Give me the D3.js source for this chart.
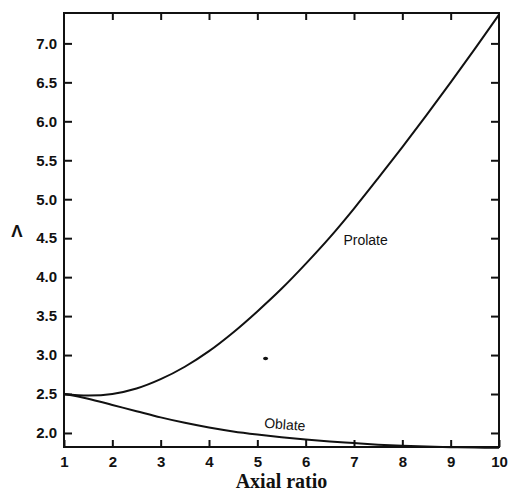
<!DOCTYPE html>
<html>
<head>
<meta charset="utf-8">
<script src="https://cdn.jsdelivr.net/npm/d3@7"></script>
<style>
  body { margin: 0; background: #fff; }
  svg { display: block; }
  .tick text { font-family: "Liberation Sans", Arial, sans-serif; font-weight: bold; font-size: 15px; fill: #111; }
</style>
</head>
<body>
<div id="chart"></div>
<script>
// axial ratio values shared by both curves
const axialRatio = [1, 1.5, 2, 2.5, 3, 3.5, 4, 4.5, 5, 5.5, 6, 6.5, 7, 7.5, 8, 8.5, 9, 9.5, 10];
const prolate = [2.50, 2.48, 2.50, 2.57, 2.69, 2.85, 3.05, 3.29, 3.56, 3.85, 4.17, 4.51, 4.88, 5.27, 5.67, 6.08, 6.50, 6.93, 7.37];
const oblate = [2.50, 2.44, 2.36, 2.28, 2.20, 2.13, 2.07, 2.02, 1.98, 1.945, 1.915, 1.89, 1.87, 1.85, 1.835, 1.825, 1.818, 1.813, 1.81];

const xTicks = [1, 2, 3, 4, 5, 6, 7, 8, 9, 10];
const yTicks = [2.0, 2.5, 3.0, 3.5, 4.0, 4.5, 5.0, 5.5, 6.0, 6.5, 7.0];

// stray dot in the original figure
const strayDot = [{ x: 5.17, y: 2.955 }];

const width = 511;
const height = 491;
const margin = { top: 13, right: 12, bottom: 44, left: 64 };

const svg = d3.select('#chart')
  .append('svg')
  .attr('width', width)
  .attr('height', height);

const xScale = d3.scaleLinear()
  .domain([1, 10])
  .range([margin.left, width - margin.right]);

const yScale = d3.scaleLinear()
  .domain([1.82, 7.39])
  .range([height - margin.bottom, margin.top]);

function styleAxis(g) {
  g.select('.domain').remove();
  g.selectAll('.tick line').attr('stroke', '#111').attr('stroke-width', 2);
}

// left axis with labels
svg.append('g')
  .attr('transform', `translate(${margin.left},0)`)
  .call(d3.axisLeft(yScale).tickValues(yTicks).tickFormat(d3.format('.1f')).tickSize(-8).tickPadding(7))
  .call(styleAxis);

// right axis, ticks only
svg.append('g')
  .attr('transform', `translate(${width - margin.right},0)`)
  .call(d3.axisRight(yScale).tickValues(yTicks).tickFormat('').tickSize(-8))
  .call(styleAxis);

// bottom axis with labels
svg.append('g')
  .attr('transform', `translate(0,${height - margin.bottom})`)
  .call(d3.axisBottom(xScale).tickValues(xTicks).tickFormat(d3.format('d')).tickSize(-7).tickPadding(9))
  .call(styleAxis);

// top axis, ticks only
svg.append('g')
  .attr('transform', `translate(0,${margin.top})`)
  .call(d3.axisTop(xScale).tickValues(xTicks.slice(1, -1)).tickFormat('').tickSize(-7))
  .call(styleAxis);

// frame
svg.append('rect')
  .attr('x', margin.left)
  .attr('y', margin.top)
  .attr('width', width - margin.left - margin.right)
  .attr('height', height - margin.top - margin.bottom)
  .attr('fill', 'none')
  .attr('stroke', '#111')
  .attr('stroke-width', 2);

const line = d3.line()
  .x((d) => xScale(d[0]))
  .y((d) => yScale(d[1]))
  .curve(d3.curveCatmullRom.alpha(0.5));

svg.append('path')
  .datum(axialRatio.map((a, i) => [a, prolate[i]]))
  .attr('d', line)
  .attr('fill', 'none')
  .attr('stroke', '#111')
  .attr('stroke-width', 2);

svg.append('path')
  .datum(axialRatio.map((a, i) => [a, oblate[i]]))
  .attr('d', line)
  .attr('fill', 'none')
  .attr('stroke', '#111')
  .attr('stroke-width', 2);

svg.selectAll('.dot')
  .data(strayDot)
  .join('ellipse')
  .attr('class', 'dot')
  .attr('cx', (d) => xScale(d.x))
  .attr('cy', (d) => yScale(d.y))
  .attr('rx', 2.5)
  .attr('ry', 1.8)
  .attr('fill', '#111');

// curve labels
svg.append('text')
  .attr('x', xScale(7.24))
  .attr('y', yScale(4.47))
  .attr('dy', '0.35em')
  .attr('text-anchor', 'middle')
  .style('font-family', '"Liberation Sans", Arial, sans-serif')
  .style('font-size', '14px')
  .attr('fill', '#111')
  .text('Prolate');

svg.append('text')
  .attr('transform', `translate(${xScale(5.57)},${yScale(2.11)}) rotate(4)`)
  .attr('dy', '0.35em')
  .attr('text-anchor', 'middle')
  .style('font-family', '"Liberation Sans", Arial, sans-serif')
  .style('font-size', '14px')
  .attr('fill', '#111')
  .text('Oblate');

// axis titles
svg.append('text')
  .attr('x', 17)
  .attr('y', 231)
  .attr('dy', '0.35em')
  .attr('text-anchor', 'middle')
  .style('font-family', '"Liberation Sans", Arial, sans-serif')
  .style('font-weight', 'bold')
  .style('font-size', '17px')
  .attr('fill', '#111')
  .text('Λ');

svg.append('text')
  .attr('x', (margin.left + width - margin.right) / 2)
  .attr('y', 488)
  .attr('text-anchor', 'middle')
  .style('font-family', '"Liberation Serif", "Times New Roman", serif')
  .style('font-weight', 'bold')
  .style('font-size', '20px')
  .attr('fill', '#111')
  .text('Axial ratio');
</script>
</body>
</html>
